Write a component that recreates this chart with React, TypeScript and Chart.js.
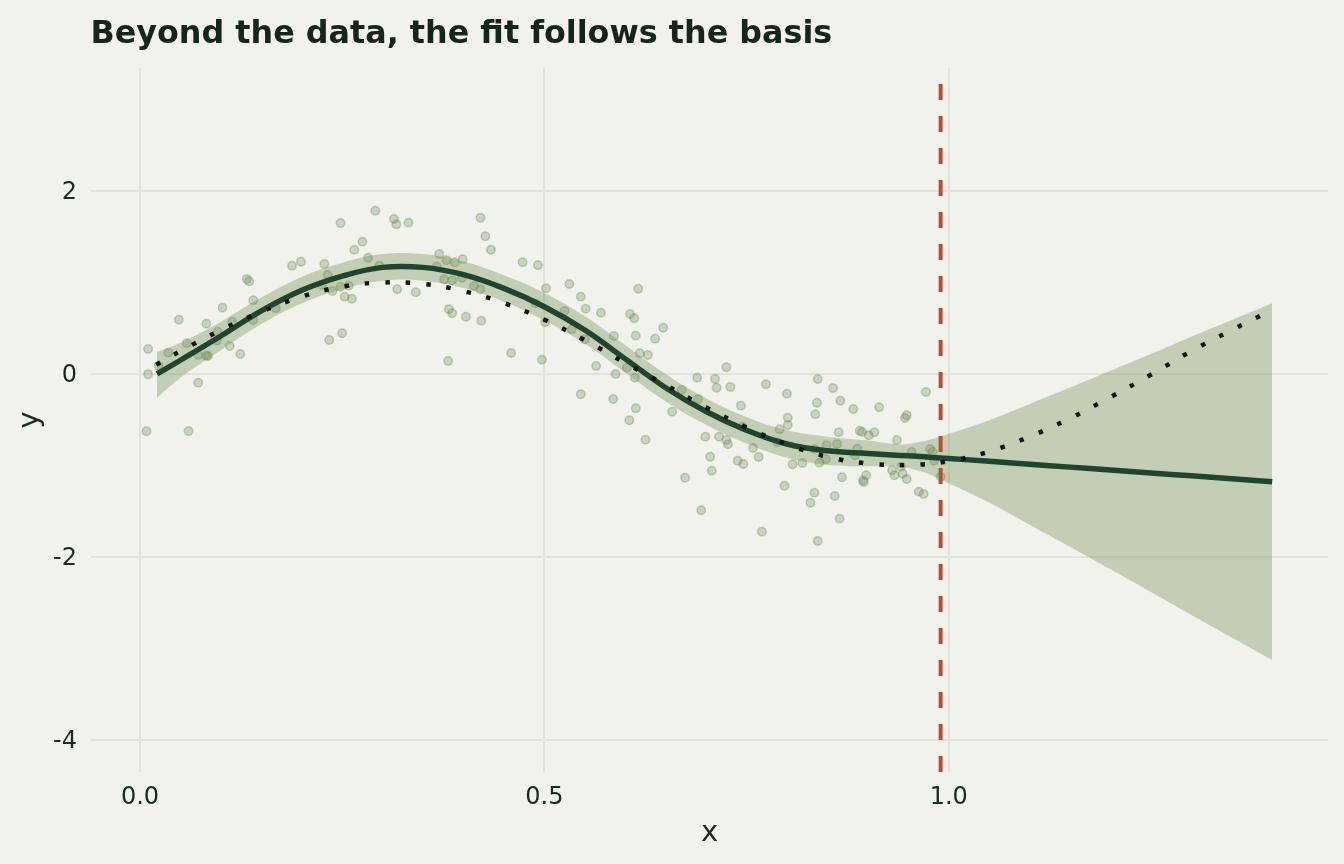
import React, { useEffect, useRef } from "react";
import { Chart, registerables } from "chart.js";

Chart.register(...registerables);

const titleText = "Beyond the data, the fit follows the basis";
const xAxisTitle = "x";
const yAxisTitle = "y";
const xTickValues = [0, 0.5, 1.0];
const yTickValues = [-4, -2, 0, 2];
const xLimits = [-0.0606, 1.469];
const yLimits = [-4.35, 3.344];
const cutoffX = 0.99;

const pointX = [
  0.010, 0.010, 0.008, 0.035, 0.048, 0.060, 0.058, 0.072, 0.072, 0.082,
  0.082, 0.084, 0.096, 0.095, 0.102, 0.111, 0.114, 0.124, 0.132, 0.135,
  0.140, 0.140, 0.168, 0.188, 0.199, 0.023, 0.228, 0.232, 0.225, 0.238,
  0.248, 0.248, 0.253, 0.262, 0.258, 0.250, 0.234, 0.265, 0.275, 0.282,
  0.291, 0.296, 0.314, 0.317, 0.332, 0.318, 0.341, 0.370, 0.367, 0.376,
  0.379, 0.389, 0.386, 0.398, 0.399, 0.382, 0.386, 0.381, 0.403, 0.413,
  0.421, 0.421, 0.427, 0.434, 0.422, 0.473, 0.492, 0.459, 0.497, 0.502,
  0.489, 0.501, 0.531, 0.525, 0.534, 0.545, 0.551, 0.570, 0.550, 0.586,
  0.564, 0.588, 0.545, 0.585, 0.602, 0.605, 0.606, 0.616, 0.611, 0.613,
  0.637, 0.647, 0.618, 0.628, 0.612, 0.613, 0.625, 0.658, 0.670, 0.689,
  0.690, 0.674, 0.694, 0.711, 0.713, 0.725, 0.730, 0.743, 0.699, 0.716,
  0.725, 0.727, 0.705, 0.707, 0.739, 0.746, 0.758, 0.765, 0.745, 0.774,
  0.800, 0.801, 0.801, 0.791, 0.788, 0.797, 0.769, 0.807, 0.838, 0.857,
  0.866, 0.837, 0.835, 0.882, 0.914, 0.972, 0.948, 0.946, 0.864, 0.890,
  0.893, 0.901, 0.908, 0.862, 0.849, 0.936, 0.887, 0.884, 0.819, 0.840,
  0.848, 0.868, 0.898, 0.894, 0.895, 0.930, 0.933, 0.943, 0.948, 0.954,
  0.977, 0.982, 0.990, 0.834, 0.829, 0.859, 0.865, 0.838, 0.963, 0.969,
  0.980, 0.834, 0.941,
];
const pointY = [
  0.273, -0.003, -0.626, 0.233, 0.593, -0.623, 0.336, -0.095, 0.208, 0.550,
  0.200, 0.197, 0.462, 0.364, 0.725, 0.306, 0.572, 0.219, 1.038, 1.013,
  0.805, 0.590, 0.718, 1.184, 1.227, 0.087, 1.202, 1.082, 0.973, 0.907,
  1.650, 0.954, 0.845, 0.823, 0.965, 0.445, 0.372, 1.358, 1.446, 1.271,
  1.785, 1.184, 1.694, 1.636, 1.654, 0.926, 0.893, 1.311, 1.173, 1.035,
  1.243, 1.221, 1.024, 1.052, 1.254, 0.707, 0.663, 0.142, 0.626, 0.962,
  0.926, 1.708, 1.505, 1.358, 0.583, 1.221, 1.188, 0.230, 0.156, 0.937,
  0.773, 0.565, 0.984, 0.689, 0.489, 0.845, 0.714, 0.670, 0.379, 0.415,
  0.087, 0.000, -0.222, -0.273, 0.069, -0.506, 0.656, 0.932, 0.609, 0.419,
  0.386, 0.506, 0.226, 0.208, -0.040, -0.375, -0.718, -0.412, -0.175, -0.040,
  -0.273, -1.133, -1.490, -0.055, -0.150, 0.073, -0.142, -0.346, -0.685, -0.685,
  -0.721, -0.768, -0.904, -1.057, -0.948, -0.984, -0.809, -0.907, -0.576, -0.113,
  -0.215, -0.478, -0.557, -0.604, -0.746, -1.221, -1.723, -0.987, -0.055, -0.153,
  -0.292, -0.314, -0.440, -0.383, -0.364, -0.197, -0.451, -0.481, -0.637, -0.620,
  -0.634, -0.670, -0.637, -0.765, -0.779, -0.721, -0.816, -0.889, -0.973, -0.969,
  -0.932, -1.129, -1.107, -1.162, -1.180, -1.052, -1.107, -1.090, -1.148, -0.852,
  -0.820, -0.948, -1.122, -1.297, -1.407, -1.333, -1.581, -1.825, -1.286, -1.311,
  -0.849, -0.820, -1.013,
];

const fitX = [
  0.021, 0.05, 0.1, 0.15, 0.2, 0.25, 0.3, 0.35, 0.4, 0.45, 0.5, 0.55, 0.6, 0.65,
  0.7, 0.75, 0.8, 0.85, 0.9, 0.94, 0.96, 0.98, 1.0, 1.05, 1.1, 1.15, 1.2, 1.25,
  1.3, 1.35, 1.4,
];
const fitY = [
  0.0, 0.15, 0.415, 0.69, 0.915, 1.07, 1.165, 1.165, 1.085, 0.935, 0.735, 0.48,
  0.165, -0.15, -0.41, -0.615, -0.765, -0.84, -0.868, -0.89, -0.9, -0.912, -0.923,
  -0.955, -0.987, -1.018, -1.05, -1.082, -1.113, -1.145, -1.177,
];
const fitLow = [
  -0.26, -0.04, 0.26, 0.545, 0.77, 0.925, 1.02, 1.02, 0.94, 0.79, 0.585, 0.33,
  0.015, -0.3, -0.555, -0.76, -0.915, -0.995, -1.008, -1.01, -1.05, -1.112, -1.193,
  -1.405, -1.647, -1.888, -2.135, -2.382, -2.633, -2.88, -3.127,
];
const fitHigh = [
  0.24, 0.34, 0.57, 0.835, 1.06, 1.215, 1.31, 1.31, 1.23, 1.08, 0.885, 0.63,
  0.315, 0.0, -0.265, -0.47, -0.615, -0.685, -0.728, -0.77, -0.75, -0.712, -0.653,
  -0.505, -0.327, -0.148, 0.035, 0.218, 0.407, 0.59, 0.773,
];

const truthX = [
  0.02, 0.05, 0.1, 0.15, 0.2, 0.25, 0.3, 0.35, 0.4, 0.45, 0.5, 0.55, 0.6, 0.65, 0.7,
  0.75, 0.8, 0.85, 0.9, 0.95, 1.0, 1.05, 1.1, 1.15, 1.2, 1.25, 1.3, 1.35, 1.4,
];
const truthY = [
  0.1, 0.25, 0.48, 0.68, 0.845, 0.955, 1.0, 0.985, 0.906, 0.775, 0.593, 0.37, 0.12,
  -0.12, -0.365, -0.585, -0.77, -0.905, -0.978, -0.996, -0.953, -0.848, -0.685,
  -0.485, -0.253, -0.008, 0.25, 0.48, 0.7,
];

const BG = "#F2F2EC";
const TEXT = "#1E2922";
const TITLE = "#16251B";
const GRID = "#E2E2DA";
const FONT = "'DejaVu Sans'";

const toXY = (xs: number[], ys: number[]) => xs.map((x, i) => ({ x, y: ys[i] }));

export default function App() {
  const ref = useRef<HTMLCanvasElement | null>(null);

  useEffect(() => {
    document.body.style.margin = "0";
    document.body.style.background = BG;
    const canvas = ref.current;
    if (!canvas) return;

    const bgPlugin = {
      id: "bgFill",
      beforeDraw(chart: any) {
        const { ctx, width, height } = chart;
        ctx.save();
        ctx.fillStyle = BG;
        ctx.fillRect(0, 0, width, height);
        ctx.restore();
      },
    };
    const titlePlugin = {
      id: "plotTitle",
      afterDraw(chart: any) {
        const { ctx, chartArea } = chart;
        ctx.save();
        ctx.font = `bold 31.8px ${FONT}`;
        ctx.fillStyle = TITLE;
        ctx.textAlign = "left";
        ctx.textBaseline = "alphabetic";
        ctx.fillText(titleText, chartArea.left - 0.5, 43.3);
        ctx.restore();
      },
    };

    const chart = new Chart(canvas, {
      type: "line",
      data: {
        datasets: [
          {
            label: "observations",
            data: toXY(pointX, pointY),
            showLine: false,
            pointRadius: 4.2,
            pointBorderWidth: 1.5,
            pointBackgroundColor: "rgba(110,140,85,0.3)",
            pointBorderColor: "rgba(110,140,85,0.38)",
            order: 5,
          },
          {
            label: "upper",
            data: toXY(fitX, fitHigh),
            pointRadius: 0,
            borderWidth: 0,
            borderColor: "rgba(0,0,0,0)",
            backgroundColor: "rgba(113,142,82,0.36)",
            fill: "+1",
            tension: 0.4,
            order: 4,
          },
          {
            label: "lower",
            data: toXY(fitX, fitLow),
            pointRadius: 0,
            borderWidth: 0,
            borderColor: "rgba(0,0,0,0)",
            fill: false,
            tension: 0.4,
            order: 4,
          },
          {
            label: "fit",
            data: toXY(fitX, fitY),
            pointRadius: 0,
            borderWidth: 5.5,
            borderColor: "#1F4430",
            fill: false,
            tension: 0.4,
            order: 3,
          },
          {
            label: "truth",
            data: toXY(truthX, truthY),
            pointRadius: 0,
            borderWidth: 4.5,
            borderDash: [4.5, 16],
            borderCapStyle: "butt",
            borderColor: "#111814",
            fill: false,
            tension: 0.4,
            order: 2,
          },
          {
            label: "cutoff",
            data: [
              { x: cutoffX, y: yLimits[0] },
              { x: cutoffX, y: yLimits[1] },
            ],
            pointRadius: 0,
            borderWidth: 4,
            borderDash: [16, 16],
            borderCapStyle: "butt",
            borderColor: "#B5522E",
            fill: false,
            tension: 0,
            order: 1,
          },
        ],
      },
      options: {
        animation: false,
        responsive: false,
        devicePixelRatio: 1,
        layout: { autoPadding: false, padding: { top: 68, right: 16, left: 0, bottom: 0 } },
        plugins: {
          legend: { display: false },
          tooltip: { enabled: false },
          title: { display: false },
        },
        scales: {
          x: {
            type: "linear",
            min: xLimits[0],
            max: xLimits[1],
            afterBuildTicks: (s: any) => {
              s.ticks = xTickValues.map((v) => ({ value: v }));
            },
            afterFit: (s: any) => {
              s.height = 92;
            },
            ticks: {
              callback: (v: any) => Number(v).toFixed(1),
              font: { family: FONT, size: 24 },
              color: TEXT,
              padding: 11,
              maxRotation: 0,
              autoSkip: false,
            },
            grid: { color: GRID, lineWidth: 2, drawTicks: false },
            border: { display: false },
            title: {
              display: true,
              text: xAxisTitle,
              font: { family: FONT, size: 29 },
              color: TEXT,
              padding: { top: 0, bottom: 13 },
            },
          },
          y: {
            type: "linear",
            min: yLimits[0],
            max: yLimits[1],
            afterBuildTicks: (s: any) => {
              s.ticks = yTickValues.map((v) => ({ value: v }));
            },
            afterFit: (s: any) => {
              s.width = 91;
            },
            ticks: {
              callback: (v: any) => String(v),
              font: { family: FONT, size: 24 },
              color: TEXT,
              padding: 14,
              labelOffset: 2,
              autoSkip: false,
            },
            grid: { color: GRID, lineWidth: 2, drawTicks: false },
            border: { display: false },
            title: {
              display: true,
              text: yAxisTitle,
              font: { family: FONT, size: 29 },
              color: TEXT,
              padding: { top: 13, bottom: 0 },
            },
          },
        },
      } as any,
      plugins: [bgPlugin, titlePlugin],
    });

    return () => chart.destroy();
  }, []);

  return (
    <div
      style={{
        position: "fixed",
        left: 0,
        top: 0,
        width: 1344,
        height: 864,
        background: BG,
      }}
    >
      <canvas ref={ref} width={1344} height={864} style={{ display: "block" }} />
    </div>
  );
}
